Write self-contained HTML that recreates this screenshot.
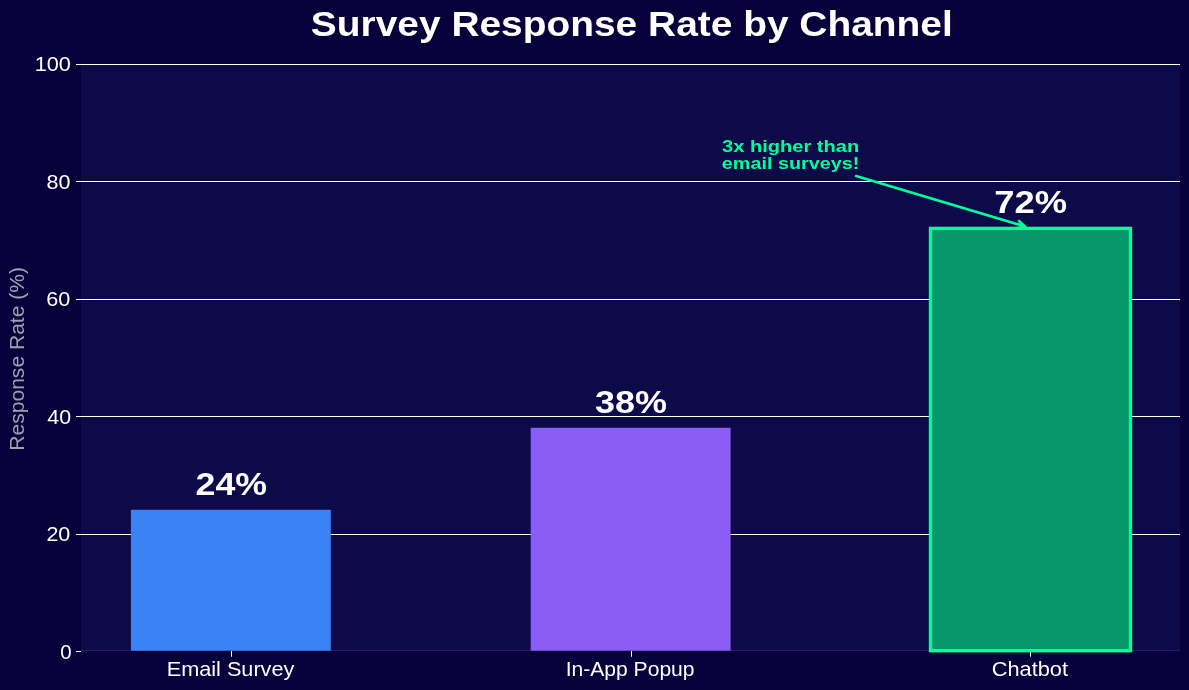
<!DOCTYPE html>
<html><head><meta charset="utf-8">
<style>
html,body{margin:0;padding:0;background:#08003a;width:1189px;height:690px;overflow:hidden;}
svg{display:block;will-change:transform;}
text{font-family:"Liberation Sans",sans-serif;font-kerning:none;}
</style></head>
<body>
<svg width="1189" height="690" viewBox="0 0 1189 690">
<rect x="0" y="0" width="1189" height="690" fill="#08003a"/>
<rect x="81" y="64.5" width="1099" height="586.2" fill="#0d0a4a"/>
<g stroke="#ffffff" stroke-width="1"><line x1="81" y1="64.5" x2="1180" y2="64.5"/><line x1="81" y1="181.5" x2="1180" y2="181.5"/><line x1="81" y1="299.5" x2="1180" y2="299.5"/><line x1="81" y1="416.5" x2="1180" y2="416.5"/><line x1="81" y1="534.5" x2="1180" y2="534.5"/><line x1="76" y1="64.5" x2="81" y2="64.5"/><line x1="76" y1="181.5" x2="81" y2="181.5"/><line x1="76" y1="299.5" x2="81" y2="299.5"/><line x1="76" y1="416.5" x2="81" y2="416.5"/><line x1="76" y1="534.5" x2="81" y2="534.5"/><line x1="76" y1="651.5" x2="81" y2="651.5"/><line x1="231.5" y1="650.7" x2="231.5" y2="656.7"/><line x1="631.5" y1="650.7" x2="631.5" y2="656.7"/><line x1="1030.5" y1="650.7" x2="1030.5" y2="656.7"/></g>
<line x1="81" y1="650.5" x2="1180" y2="650.5" stroke="#221c5c" stroke-width="1"/>
<rect x="130.9" y="509.8" width="199.9" height="140.9" fill="#3b82f6"/>
<rect x="530.7" y="427.8" width="199.9" height="222.9" fill="#8b5cf6"/>
<rect x="930.5" y="228.4" width="200" height="422.3" fill="#059669" stroke="#00ff99" stroke-width="3.4"/>
<text x="310.88" y="35.70" font-size="34.95" font-weight="bold" textLength="641.87" lengthAdjust="spacingAndGlyphs" fill="#ffffff">Survey Response Rate by Channel</text>
<text x="34.67" y="70.80" font-size="20.66" font-weight="normal" textLength="36.18" lengthAdjust="spacingAndGlyphs" fill="#ffffff">100</text>
<text x="46.44" y="188.50" font-size="20.66" font-weight="normal" textLength="23.90" lengthAdjust="spacingAndGlyphs" fill="#ffffff">80</text>
<text x="46.31" y="305.50" font-size="20.66" font-weight="normal" textLength="24.03" lengthAdjust="spacingAndGlyphs" fill="#ffffff">60</text>
<text x="47.31" y="423.80" font-size="20.66" font-weight="normal" textLength="23.82" lengthAdjust="spacingAndGlyphs" fill="#ffffff">40</text>
<text x="46.40" y="540.80" font-size="20.66" font-weight="normal" textLength="23.95" lengthAdjust="spacingAndGlyphs" fill="#ffffff">20</text>
<text x="60.20" y="658.50" font-size="20.66" font-weight="normal" textLength="11.40" lengthAdjust="spacingAndGlyphs" fill="#ffffff">0</text>
<text x="166.72" y="675.90" font-size="20.38" font-weight="normal" textLength="127.62" lengthAdjust="spacingAndGlyphs" fill="#ffffff">Email Survey</text>
<text x="565.65" y="675.90" font-size="20.60" font-weight="normal" textLength="128.93" lengthAdjust="spacingAndGlyphs" fill="#ffffff">In-App Popup</text>
<text x="991.69" y="675.90" font-size="20.38" font-weight="normal" textLength="76.37" lengthAdjust="spacingAndGlyphs" fill="#ffffff">Chatbot</text>
<text x="195.56" y="495.10" font-size="31.51" font-weight="bold" textLength="71.48" lengthAdjust="spacingAndGlyphs" fill="#ffffff">24%</text>
<text x="594.97" y="413.10" font-size="31.51" font-weight="bold" textLength="71.97" lengthAdjust="spacingAndGlyphs" fill="#ffffff">38%</text>
<text x="994.24" y="213.10" font-size="31.51" font-weight="bold" textLength="72.72" lengthAdjust="spacingAndGlyphs" fill="#ffffff">72%</text>
<text x="722.14" y="151.80" font-size="16.78" font-weight="bold" textLength="137.10" lengthAdjust="spacingAndGlyphs" fill="#00ff99">3x higher than</text>
<text x="721.83" y="169.40" font-size="16.78" font-weight="bold" textLength="137.46" lengthAdjust="spacingAndGlyphs" fill="#00ff99">email surveys!</text>
<text transform="translate(23.8,0) rotate(-90)" x="-450.73" y="0" font-size="20.36" textLength="183.73" lengthAdjust="spacingAndGlyphs" fill="#9ca3af">Response Rate (%)</text>
<g stroke="#00ff99" stroke-width="2.6" fill="none" stroke-linecap="round" stroke-linejoin="round">
<line x1="856.1" y1="176.1" x2="1025.0" y2="226.4"/>
<polyline points="1019.0,221.0 1025.0,226.4 1017.2,228.0"/>
</g>
</svg>
</body></html>
